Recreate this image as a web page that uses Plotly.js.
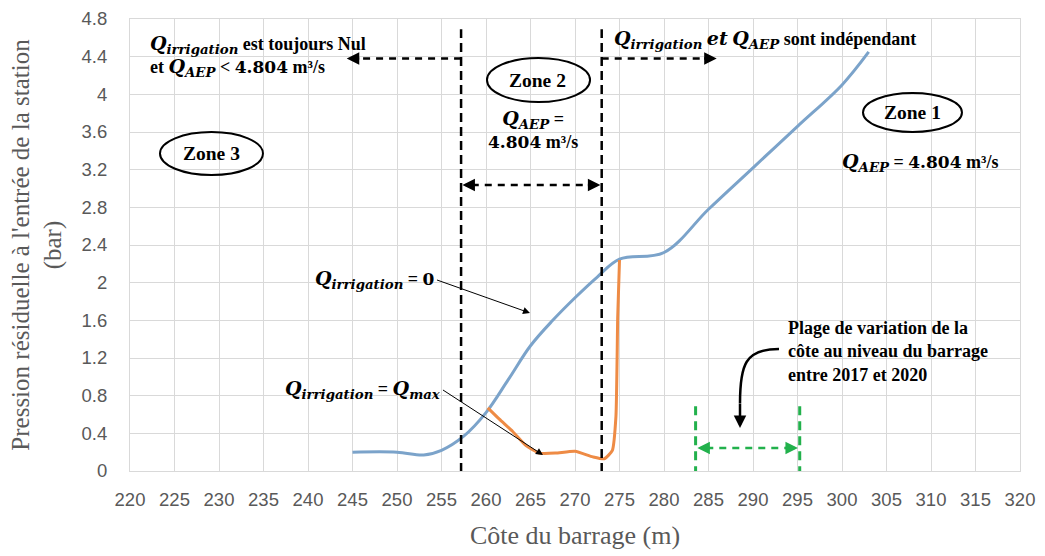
<!DOCTYPE html>
<html><head><meta charset="utf-8">
<script src="https://cdn.plot.ly/plotly-3.0.1.min.js"></script>
<style>html,body{margin:0;padding:0;background:#fff}#chart{width:1045px;height:556px}</style>
</head><body><div id="chart"></div>
<script>
// Data
const coteQirr0 = [245, 250, 253, 255, 257.5, 260, 262.5, 265, 267.5, 270, 272.5, 275, 280, 285, 290, 295, 300, 303];
const pressionQirr0 = [0.20, 0.20, 0.17, 0.22, 0.37, 0.62, 0.97, 1.33, 1.60, 1.84, 2.06, 2.25, 2.32, 2.78, 3.22, 3.66, 4.10, 4.45];
const coteQmax = [260.2, 261.5, 263, 264.5, 266, 267.8, 270, 272, 273.3, 274.2, 274.6, 274.8, 275];
const pressionQmax = [0.67, 0.55, 0.42, 0.27, 0.19, 0.19, 0.21, 0.15, 0.13, 0.22, 0.58, 1.64, 2.24];
const xTickVals = [220, 225, 230, 235, 240, 245, 250, 255, 260, 265, 270, 275, 280, 285, 290, 295, 300, 305, 310, 315, 320];
const yTickVals = [0, 0.4, 0.8, 1.2, 1.6, 2, 2.4, 2.8, 3.2, 3.6, 4, 4.4, 4.8];
const yTickText = ['0', '0.4', '0.8', '1.2', '1.6', '2', '2.4', '2.8', '3.2', '3.6', '4', '4.4', '4.8'];
// zone limits (m)
const zoneLimits = [257.2, 273.0];
const plageCote = [283.55, 295.25];

const MATH = 'font-family:DejaVu Serif;font-size:19px';
const Q = (sub) => '<span style="' + MATH + '"><i>Q</i><sub><i>' + sub + '</i></sub></span>';
const serifBold = {family: 'Liberation Serif', size: 18, color: '#000'};
const zoneFont = {family: 'Liberation Serif', size: 19.5, color: '#000'};
const num = (t) => '<span style="font-family:DejaVu Serif;font-size:17px">' + t + '</span>';

const traces = [
  {x: coteQirr0, y: pressionQirr0, mode: 'lines', name: 'Qirrigation = 0',
   line: {color: '#7BA3CA', width: 3, shape: 'spline', smoothing: 1}},
  {x: coteQmax, y: pressionQmax, mode: 'lines', name: 'Qirrigation = Qmax',
   line: {color: '#EE8B45', width: 3, shape: 'spline', smoothing: 0.5}}
];

const blackDash = {color: '#000', width: 2.5, dash: '9px,5px'};
const blackDashH = {color: '#000', width: 2.5, dash: '7px,6px'};
const greenDash = {color: '#22B14C', width: 3, dash: '9px,6px'};

const shapes = [
  {type: 'line', xref: 'x', yref: 'y', x0: zoneLimits[0], x1: zoneLimits[0], y0: -0.01, y1: 4.69, line: blackDash},
  {type: 'line', xref: 'x', yref: 'y', x0: zoneLimits[1], x1: zoneLimits[1], y0: -0.01, y1: 4.69, line: blackDash},
  {type: 'line', xref: 'x', yref: 'y', x0: zoneLimits[0], x1: 245.2, y0: 4.38, y1: 4.38, line: blackDashH},
  {type: 'line', xref: 'x', yref: 'y', x0: zoneLimits[1], x1: 285.0, y0: 4.38, y1: 4.38, line: blackDashH},
  {type: 'line', xref: 'x', yref: 'y', x0: zoneLimits[0] + 1.2, x1: zoneLimits[1] - 1.2, y0: 3.037, y1: 3.037, line: blackDashH},
  {type: 'circle', xref: 'x', yref: 'y', x0: 260.11, x1: 271.69, y0: 3.918, y1: 4.386, line: {color: '#000', width: 2}},
  {type: 'circle', xref: 'x', yref: 'y', x0: 223.37, x1: 234.94, y0: 3.143, y1: 3.60, line: {color: '#000', width: 2}},
  {type: 'circle', xref: 'x', yref: 'y', x0: 302.36, x1: 313.48, y0: 3.60, y1: 4.014, line: {color: '#000', width: 2}},
  {type: 'line', xref: 'x', yref: 'y', x0: plageCote[0], x1: plageCote[0], y0: -0.045, y1: 0.71, line: greenDash},
  {type: 'line', xref: 'x', yref: 'y', x0: plageCote[1], x1: plageCote[1], y0: -0.045, y1: 0.71, line: greenDash},
  {type: 'line', xref: 'x', yref: 'y', x0: plageCote[0] + 1.2, x1: plageCote[1] - 1.2, y0: 0.244, y1: 0.244, line: {color: '#22B14C', width: 2.5, dash: '7px,6px'}},
  {type: 'path', xref: 'x', yref: 'y', path: 'M 292.92 1.296 C 289.10 1.296 288.54 1.126 288.54 0.72', line: {color: '#000', width: 2.5}}
];

const arrowBase = {text: '', showarrow: true, arrowhead: 2, arrowsize: 1, arrowwidth: 2.5, arrowcolor: '#000', axref: 'pixel', ayref: 'pixel', standoff: 0};
const annotations = [
  Object.assign({}, arrowBase, {x: 244.35, y: 4.38, ax: 14, ay: 0}),
  Object.assign({}, arrowBase, {x: 285.92, y: 4.38, ax: -14, ay: 0}),
  Object.assign({}, arrowBase, {x: zoneLimits[0] + 0.15, y: 3.037, ax: 14, ay: 0}),
  Object.assign({}, arrowBase, {x: zoneLimits[1] - 0.15, y: 3.037, ax: -14, ay: 0}),
  Object.assign({}, arrowBase, {x: plageCote[0] + 0.2, y: 0.244, ax: 14, ay: 0, arrowcolor: '#22B14C'}),
  Object.assign({}, arrowBase, {x: plageCote[1] - 0.2, y: 0.244, ax: -14, ay: 0, arrowcolor: '#22B14C'}),
  Object.assign({}, arrowBase, {x: 288.54, y: 0.457, ax: 0, ay: -26, arrowwidth: 2.5}),
  // texts
  {x: 222.02, y: 4.41, xref: 'x', yref: 'y', xanchor: 'left', yanchor: 'middle', align: 'left', showarrow: false,
   text: '<b>' + Q('irrigation') + ' est toujours Nul<br>et ' + Q('AEP') + ' &lt; ' + num('4.804') + ' m³/s</b>', font: serifBold},
  {x: 274.16, y: 4.58, xref: 'x', yref: 'y', xanchor: 'left', yanchor: 'middle', showarrow: false,
   text: '<b>' + Q('irrigation') + ' <span style="' + MATH + '"><i>et</i></span> ' + Q('AEP') + ' sont indépendant</b>', font: serifBold},
  {x: 265.84, y: 4.152, xref: 'x', yref: 'y', showarrow: false, text: '<b>Zone 2</b>', font: zoneFont},
  {x: 229.21, y: 3.377, xref: 'x', yref: 'y', showarrow: false, text: '<b>Zone 3</b>', font: zoneFont},
  {x: 307.87, y: 3.812, xref: 'x', yref: 'y', showarrow: false, text: '<b>Zone 1</b>', font: zoneFont},
  {x: 265.28, y: 3.626, xref: 'x', yref: 'y', showarrow: false, align: 'center',
   text: '<b>' + Q('AEP') + ' =<br>' + num('4.804') + ' m³/s</b>', font: serifBold},
  {x: 308.71, y: 3.28, xref: 'x', yref: 'y', showarrow: false,
   text: '<b>' + Q('AEP') + ' = ' + num('4.804') + ' m³/s</b>', font: serifBold},
  {x: 264.94, y: 1.678, xref: 'x', yref: 'y', showarrow: true, ax: -93, ay: -33, arrowhead: 2, arrowsize: 1.4, arrowwidth: 1, arrowcolor: '#000', standoff: 0,
   xanchor: 'right', text: '<b>' + Q('irrigation') + ' = ' + num('0') + '</b>', font: serifBold},
  {x: 266.4, y: 0.17, xref: 'x', yref: 'y', showarrow: true, ax: -100, ay: -65, arrowhead: 2, arrowsize: 1.4, arrowwidth: 1, arrowcolor: '#000', standoff: 0,
   xanchor: 'right', text: '<b>' + Q('irrigation') + ' = ' + Q('max') + '</b>', font: serifBold},
  {x: 293.71, y: 1.264, xref: 'x', yref: 'y', xanchor: 'left', yanchor: 'middle', align: 'left', showarrow: false,
   text: '<b>Plage de variation de la<br>côte au niveau du barrage<br>entre 2017 et 2020</b>', font: serifBold}
];

const layout = {
  width: 1045, height: 556,
  margin: {l: 130, r: 25, t: 19, b: 85},
  paper_bgcolor: '#fff', plot_bgcolor: '#fff',
  showlegend: false,
  xaxis: {
    range: [220, 320], tickmode: 'array', tickvals: xTickVals,
    showgrid: true, gridcolor: '#d9d9d9', gridwidth: 1, zeroline: false,
    showline: true, linecolor: '#d9d9d9', linewidth: 1, mirror: true, ticks: '',
    ticklabelstandoff: 12,
    tickfont: {family: 'Liberation Sans', size: 18.5, color: '#595959'},
    title: {text: 'Côte du barrage (m)\u00a0\u00a0\u00a0\u00a0\u00a0', standoff: 16,
            font: {family: 'Liberation Serif', size: 26, color: '#595959'}}
  },
  yaxis: {
    range: [0, 4.8], tickmode: 'array', tickvals: yTickVals, ticktext: yTickText,
    showgrid: true, gridcolor: '#d9d9d9', gridwidth: 1, zeroline: false,
    showline: true, linecolor: '#d9d9d9', linewidth: 1, mirror: true, ticks: '',
    ticklabelstandoff: 18,
    tickfont: {family: 'Liberation Sans', size: 18.5, color: '#595959'},
    title: {text: 'Pression résiduelle à l\'entrée de la station<br>(bar)', standoff: 12,
            font: {family: 'Liberation Serif', size: 25, color: '#595959'}}
  },
  shapes: shapes,
  annotations: annotations
};

Plotly.newPlot('chart', traces, layout, {staticPlot: true, displayModeBar: false});
</script>
</body></html>
